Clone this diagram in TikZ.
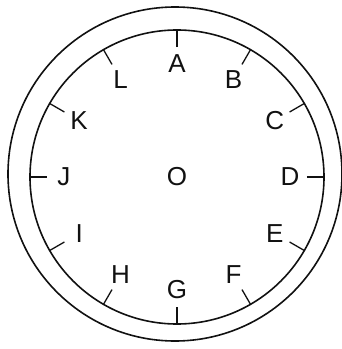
\documentclass[tikz,border=0pt]{standalone}
\usepackage{fontspec}
\setmainfont{Liberation Sans}
\usetikzlibrary{calc}
\definecolor{DialInk}{HTML}{111111}
\newcommand{\dialfont}{\fontsize{26}{26}\selectfont}
\tikzset{dialmark/.style={font=\dialfont,text=DialInk,inner sep=0pt}}

\begin{document}
\begin{tikzpicture}[x=1pt,y=1pt,line width=1.6pt]
  \useasboundingbox (-177,-172) rectangle (165,177);
  % rim and face
  \draw[DialInk] (-2,3) circle[radius=167];
  \draw[DialInk] (0,0) circle[radius=147];
  \node[dialmark] (O) at (0,0) {O};
  % ticks and letters
  \foreach \lbl [count=\i from 0] in {A,B,C,D,E,F,G,H,I,J,K,L} {
    \draw[DialInk,line width=1.3pt] ({90-30*\i}:130) -- ({90-30*\i}:147);
    \node[dialmark] (\lbl) at ({90-30*\i}:113) {\lbl};
  }
\end{tikzpicture}
\end{document}
